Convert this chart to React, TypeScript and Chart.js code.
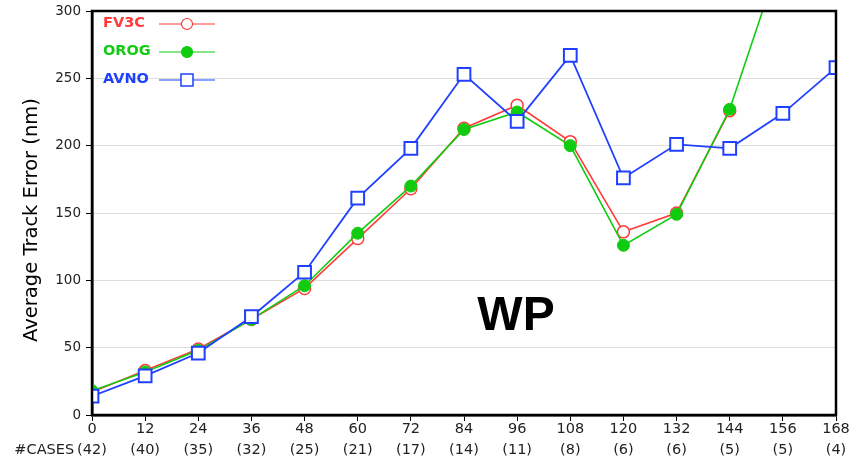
import React, { useEffect, useRef } from "react";
import { Chart, registerables } from "chart.js";

Chart.register(...registerables);

const hours = [0, 12, 24, 36, 48, 60, 72, 84, 96, 108, 120, 132, 144, 156, 168];
const cases = [42, 40, 35, 32, 25, 21, 17, 14, 11, 8, 6, 6, 5, 5, 4];
const fv3c = [17, 33, 49, 71, 94, 131, 168, 213, 230, 203, 136, 150, 226];
const orog = [18, 32, 48, 71, 96, 135, 170, 212, 225, 200, 126, 149, 227, 345];
const avno = [14, 29, 46, 73, 106, 161, 198, 253, 218, 267, 176, 201, 198, 224, 258];
const seriesNames = ["FV3C", "OROG", "AVNO"];
const seriesColors = ["#ff3b3b", "#10cc10", "#2040ff"];
const yTitle = "Average Track Error (nm)";
const basinLabel = "WP";
const casesPrefix = "#CASES";

const toPts = (arr: number[]) => arr.map((v, i) => ({ x: hours[i], y: v }));

const overlayPlugin = {
  id: "overlay",
  afterDraw(chart: any) {
    const { ctx, chartArea, scales } = chart;
    const xs = scales.x;
    ctx.save();
    // frame
    ctx.strokeStyle = "#000";
    ctx.lineWidth = 2.5;
    ctx.strokeRect(chartArea.left, chartArea.top, chartArea.right - chartArea.left, chartArea.bottom - chartArea.top);
    // cases row
    ctx.fillStyle = "#222";
    ctx.font = "14.5px 'DejaVu Sans'";
    ctx.textBaseline = "middle";
    ctx.textAlign = "center";
    cases.forEach((c, i) => {
      const px = xs.getPixelForValue(hours[i]);
      ctx.fillText("(" + c + ")", px, 450);
      if (i === 0) {
        const w = ctx.measureText("(" + c + ")").width;
        ctx.textAlign = "right";
        ctx.fillText(casesPrefix, px - w / 2 - 3, 450);
        ctx.textAlign = "center";
      }
    });
    // y title
    ctx.save();
    ctx.translate(32, 220);
    ctx.rotate(-Math.PI / 2);
    ctx.font = "19.5px 'DejaVu Sans'";
    ctx.fillStyle = "#000";
    ctx.textAlign = "center";
    ctx.textBaseline = "middle";
    ctx.fillText(yTitle, 0, 0);
    ctx.restore();
    // WP
    ctx.font = "bold 48px 'Liberation Sans'";
    ctx.fillStyle = "#000";
    ctx.textAlign = "center";
    ctx.textBaseline = "alphabetic";
    ctx.fillText(basinLabel, 516, 330);
    // legend
    const styles = ["circle", "circle", "rect"];
    seriesNames.forEach((name, i) => {
      const y = 23 + i * 28;
      ctx.font = "bold 14.5px 'DejaVu Sans'";
      ctx.fillStyle = seriesColors[i];
      ctx.textAlign = "left";
      ctx.textBaseline = "middle";
      ctx.fillText(name, 103, y);
      ctx.strokeStyle = seriesColors[i];
      ctx.lineWidth = 1.2;
      ctx.beginPath();
      ctx.moveTo(159, y + 1);
      ctx.lineTo(215, y + 1);
      ctx.stroke();
      ctx.beginPath();
      if (styles[i] === "rect") {
        ctx.fillStyle = "#fff";
        ctx.lineWidth = 1.5;
        ctx.rect(181, y - 5, 12, 12);
        ctx.fill();
        ctx.stroke();
      } else {
        ctx.arc(187, y + 1, 5.5, 0, Math.PI * 2);
        ctx.fillStyle = i === 1 ? seriesColors[i] : "#fff";
        ctx.fill();
        ctx.stroke();
      }
    });
    ctx.restore();
  },
};

export default function App() {
  const ref = useRef<HTMLCanvasElement>(null);
  useEffect(() => {
    document.body.style.margin = "0";
    const chart = new Chart(ref.current!, {
      type: "line",
      data: {
        datasets: [
          {
            label: seriesNames[0],
            data: toPts(fv3c),
            borderColor: seriesColors[0],
            backgroundColor: "#fff",
            borderWidth: 1.6,
            pointStyle: "circle",
            pointRadius: 6,
            pointBorderWidth: 1.5,
            order: 3,
          },
          {
            label: seriesNames[1],
            data: toPts(orog),
            borderColor: seriesColors[1],
            backgroundColor: seriesColors[1],
            borderWidth: 1.6,
            pointStyle: "circle",
            pointRadius: 6,
            pointBorderWidth: 1,
            order: 2,
          },
          {
            label: seriesNames[2],
            data: toPts(avno),
            borderColor: seriesColors[2],
            backgroundColor: "#fff",
            borderWidth: 1.8,
            pointStyle: "rect",
            pointRadius: 9,
            pointBorderWidth: 2,
            order: 1,
          },
        ],
      },
      options: {
        responsive: false,
        animation: false,
        layout: { padding: { top: 10, right: 24, left: 0, bottom: 0 } },
        plugins: { legend: { display: false }, tooltip: { enabled: false } },
        scales: {
          x: {
            type: "linear",
            min: 0,
            max: 168,
            afterBuildTicks: (s: any) => {
              s.ticks = hours.map((h) => ({ value: h }));
            },
            afterFit: (s: any) => {
              s.height = 49;
              s.paddingLeft = 0;
              s.paddingRight = 0;
            },
            grid: { drawOnChartArea: false, tickColor: "#000", tickLength: 6, lineWidth: 1 },
            border: { color: "#000", width: 2.5 },
            ticks: { color: "#222", font: { family: "'DejaVu Sans'", size: 14.5 }, padding: 0, maxRotation: 0, autoSkip: false },
          },
          y: {
            min: 0,
            max: 300,
            afterFit: (s: any) => {
              s.width = 92;
              s.paddingTop = 0;
              s.paddingBottom = 0;
            },
            ticks: { stepSize: 50, color: "#222", font: { family: "'DejaVu Sans'", size: 13.5 }, padding: 5 },
            grid: { color: "#dddddd", tickColor: "#000", tickLength: 6, lineWidth: 1 },
            border: { color: "#000", width: 2.5 },
          },
        },
      },
      plugins: [overlayPlugin],
    } as any);
    return () => chart.destroy();
  }, []);
  return (
    <div style={{ position: "absolute", left: 0, top: 0, width: 860, height: 464, background: "#fff" }}>
      <canvas ref={ref} width={860} height={464} />
    </div>
  );
}
